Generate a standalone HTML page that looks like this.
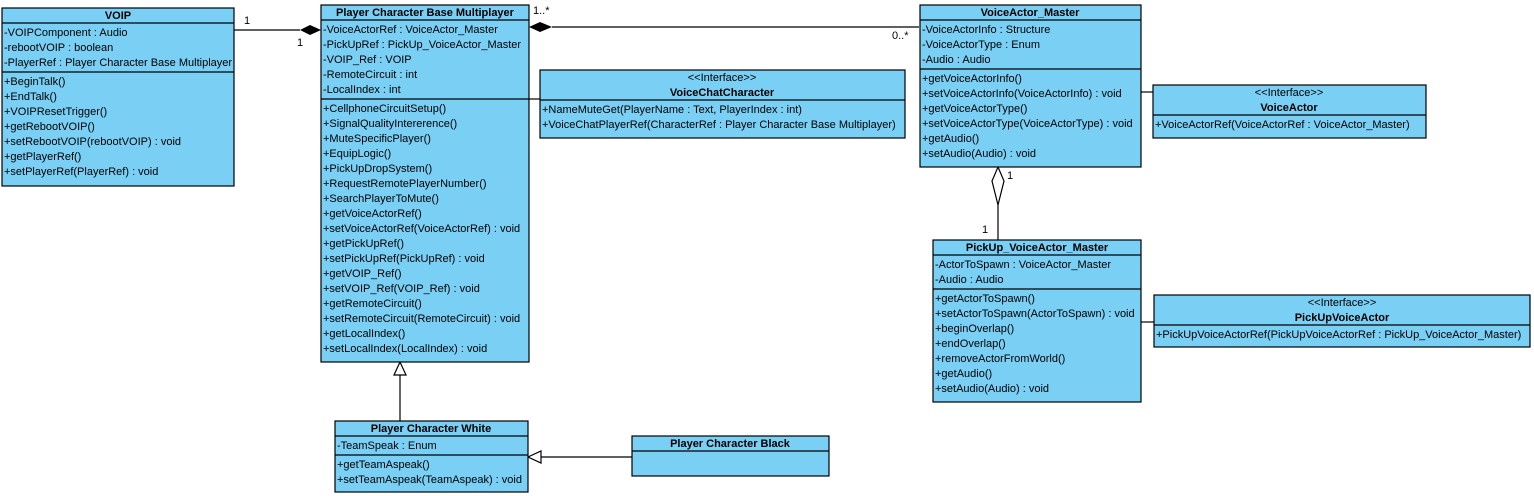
<!DOCTYPE html>
<html><head><meta charset="utf-8"><style>
html,body{margin:0;padding:0;background:#fff;}
svg{display:block;font-family:"Liberation Sans",Arial,sans-serif;font-size:11px;}
.b{fill:#7acff5;stroke:#000;stroke-width:1.2;}
.l{stroke:#000;stroke-width:1.2;fill:none;}
.t{font-weight:bold;text-anchor:middle;}
.c{text-anchor:middle;}
</style></head><body>
<svg width="1534" height="496" viewBox="0 0 1534 496">
<!-- connectors -->
<line class="l" x1="234" y1="30" x2="300" y2="30"/>
<polygon points="300,30 310,25 321,30 310,35" fill="#000"/>
<text x="244" y="24">1</text><text x="297" y="46">1</text>
<line class="l" x1="552" y1="27" x2="919" y2="27"/>
<polygon points="529,27 540,22 552,27 540,32" fill="#000"/>
<text x="533" y="14">1..*</text><text x="892" y="39">0..*</text>
<line class="l" x1="529" y1="99" x2="540" y2="99"/>
<line class="l" x1="1141" y1="92" x2="1153" y2="92"/>
<line class="l" x1="1141" y1="322" x2="1154" y2="322"/>
<polygon points="998,167 1004,181 998,205 992,181" fill="#fff" stroke="#000" stroke-width="1.2"/>
<line class="l" x1="998" y1="205" x2="998" y2="240"/>
<text x="1007" y="179">1</text><text x="982" y="233">1</text>
<line class="l" x1="400" y1="375" x2="400" y2="421"/>
<polygon points="400,362 394,375 406,375" fill="#fff" stroke="#000" stroke-width="1.2"/>
<line class="l" x1="541" y1="457" x2="632" y2="457"/>
<polygon points="528,457 541,451 541,463" fill="#fff" stroke="#000" stroke-width="1.2"/>

<!-- VOIP -->
<rect class="b" x="2" y="8" width="232" height="178"/>
<line class="l" x1="2" y1="23" x2="234" y2="23"/><line class="l" x1="2" y1="72" x2="234" y2="72"/>
<text class="t" x="118" y="19">VOIP</text>
<text x="4" y="36">-VOIPComponent : Audio</text>
<text x="4" y="51">-rebootVOIP : boolean</text>
<text x="4" y="66">-PlayerRef : Player Character Base Multiplayer</text>
<text x="4" y="85">+BeginTalk()</text>
<text x="4" y="100">+EndTalk()</text>
<text x="4" y="115">+VOIPResetTrigger()</text>
<text x="4" y="130">+getRebootVOIP()</text>
<text x="4" y="145">+setRebootVOIP(rebootVOIP) : void</text>
<text x="4" y="160">+getPlayerRef()</text>
<text x="4" y="175">+setPlayerRef(PlayerRef) : void</text>

<!-- PCBM -->
<rect class="b" x="321" y="5" width="208" height="357"/>
<line class="l" x1="321" y1="20" x2="529" y2="20"/><line class="l" x1="321" y1="99" x2="529" y2="99"/>
<text class="t" x="425" y="16">Player Character Base Multiplayer</text>
<text x="323" y="33">-VoiceActorRef : VoiceActor_Master</text>
<text x="323" y="48">-PickUpRef : PickUp_VoiceActor_Master</text>
<text x="323" y="63">-VOIP_Ref : VOIP</text>
<text x="323" y="78">-RemoteCircuit : int</text>
<text x="323" y="93">-LocalIndex : int</text>
<text x="323" y="112">+CellphoneCircuitSetup()</text>
<text x="323" y="127">+SignalQualityIntererence()</text>
<text x="323" y="142">+MuteSpecificPlayer()</text>
<text x="323" y="157">+EquipLogic()</text>
<text x="323" y="172">+PickUpDropSystem()</text>
<text x="323" y="187">+RequestRemotePlayerNumber()</text>
<text x="323" y="202">+SearchPlayerToMute()</text>
<text x="323" y="217">+getVoiceActorRef()</text>
<text x="323" y="232">+setVoiceActorRef(VoiceActorRef) : void</text>
<text x="323" y="247">+getPickUpRef()</text>
<text x="323" y="262">+setPickUpRef(PickUpRef) : void</text>
<text x="323" y="277">+getVOIP_Ref()</text>
<text x="323" y="292">+setVOIP_Ref(VOIP_Ref) : void</text>
<text x="323" y="307">+getRemoteCircuit()</text>
<text x="323" y="322">+setRemoteCircuit(RemoteCircuit) : void</text>
<text x="323" y="337">+getLocalIndex()</text>
<text x="323" y="352">+setLocalIndex(LocalIndex) : void</text>

<!-- VoiceChatCharacter -->
<rect class="b" x="540" y="70" width="365" height="68"/>
<line class="l" x1="540" y1="100" x2="905" y2="100"/>
<text class="c" x="722" y="81">&lt;&lt;Interface&gt;&gt;</text>
<text class="t" x="722" y="96">VoiceChatCharacter</text>
<text x="542" y="113">+NameMuteGet(PlayerName : Text, PlayerIndex : int)</text>
<text x="542" y="128">+VoiceChatPlayerRef(CharacterRef : Player Character Base Multiplayer)</text>

<!-- VoiceActor_Master -->
<rect class="b" x="920" y="5" width="221" height="162"/>
<line class="l" x1="920" y1="20" x2="1141" y2="20"/><line class="l" x1="920" y1="69" x2="1141" y2="69"/>
<text class="t" x="1030" y="16">VoiceActor_Master</text>
<text x="922" y="33">-VoiceActorInfo : Structure</text>
<text x="922" y="48">-VoiceActorType : Enum</text>
<text x="922" y="63">-Audio : Audio</text>
<text x="922" y="82">+getVoiceActorInfo()</text>
<text x="922" y="97">+setVoiceActorInfo(VoiceActorInfo) : void</text>
<text x="922" y="112">+getVoiceActorType()</text>
<text x="922" y="127">+setVoiceActorType(VoiceActorType) : void</text>
<text x="922" y="142">+getAudio()</text>
<text x="922" y="157">+setAudio(Audio) : void</text>

<!-- VoiceActor -->
<rect class="b" x="1153" y="85" width="273" height="53"/>
<line class="l" x1="1153" y1="115" x2="1426" y2="115"/>
<text class="c" x="1289" y="96">&lt;&lt;Interface&gt;&gt;</text>
<text class="t" x="1289" y="111">VoiceActor</text>
<text x="1155" y="128">+VoiceActorRef(VoiceActorRef : VoiceActor_Master)</text>

<!-- PickUp_VoiceActor_Master -->
<rect class="b" x="933" y="240" width="208" height="162"/>
<line class="l" x1="933" y1="255" x2="1141" y2="255"/><line class="l" x1="933" y1="289" x2="1141" y2="289"/>
<text class="t" x="1037" y="251">PickUp_VoiceActor_Master</text>
<text x="935" y="268">-ActorToSpawn : VoiceActor_Master</text>
<text x="935" y="283">-Audio : Audio</text>
<text x="935" y="302">+getActorToSpawn()</text>
<text x="935" y="317">+setActorToSpawn(ActorToSpawn) : void</text>
<text x="935" y="332">+beginOverlap()</text>
<text x="935" y="347">+endOverlap()</text>
<text x="935" y="362">+removeActorFromWorld()</text>
<text x="935" y="377">+getAudio()</text>
<text x="935" y="392">+setAudio(Audio) : void</text>

<!-- PickUpVoiceActor -->
<rect class="b" x="1154" y="295" width="376" height="52"/>
<line class="l" x1="1154" y1="325" x2="1530" y2="325"/>
<text class="c" x="1342" y="306">&lt;&lt;Interface&gt;&gt;</text>
<text class="t" x="1342" y="321">PickUpVoiceActor</text>
<text x="1156" y="338">+PickUpVoiceActorRef(PickUpVoiceActorRef : PickUp_VoiceActor_Master)</text>

<!-- Player Character White -->
<rect class="b" x="335" y="421" width="193" height="71"/>
<line class="l" x1="335" y1="436" x2="528" y2="436"/><line class="l" x1="335" y1="455" x2="528" y2="455"/>
<text class="t" x="431" y="432">Player Character White</text>
<text x="337" y="449">-TeamSpeak : Enum</text>
<text x="337" y="468">+getTeamAspeak()</text>
<text x="337" y="483">+setTeamAspeak(TeamAspeak) : void</text>

<!-- Player Character Black -->
<rect class="b" x="632" y="436" width="197" height="40"/>
<line class="l" x1="632" y1="451" x2="829" y2="451"/>
<text class="t" x="730" y="447">Player Character Black</text>
</svg>
</body></html>
